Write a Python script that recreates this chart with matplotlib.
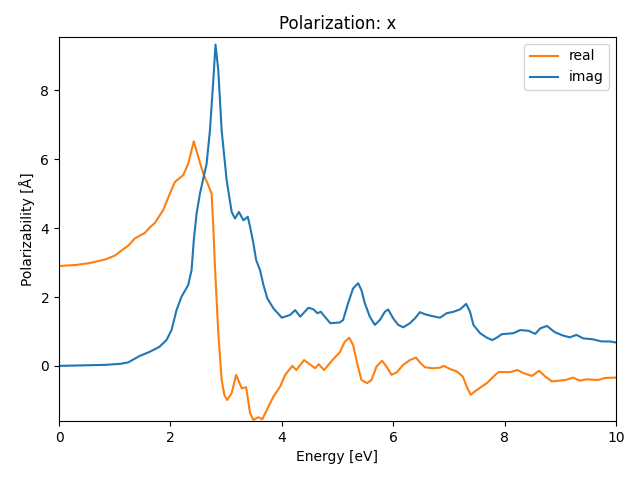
import matplotlib
matplotlib.use("Agg")
import matplotlib.pyplot as plt

real_x = [0.0, 0.30, 0.53, 0.83, 1.00, 1.13, 1.25, 1.36, 1.54, 1.63, 1.72, 1.87, 1.99, 2.08,
          2.23, 2.32, 2.42, 2.50, 2.59, 2.68, 2.74, 2.77, 2.80, 2.86, 2.92, 2.97, 3.02, 3.10,
          3.18, 3.28, 3.36, 3.43, 3.49, 3.58, 3.65, 3.73, 3.85, 3.97, 4.06, 4.19, 4.26, 4.40,
          4.60, 4.66, 4.76, 4.92, 5.04, 5.13, 5.21, 5.28, 5.36, 5.43, 5.53, 5.61, 5.70, 5.80,
          5.88, 5.97, 6.06, 6.18, 6.30, 6.41, 6.48, 6.57, 6.72, 6.84, 6.91, 7.02, 7.14, 7.25,
          7.32, 7.39, 7.50, 7.68, 7.80, 7.89, 8.10, 8.23, 8.34, 8.49, 8.62, 8.73, 8.85, 9.09,
          9.23, 9.35, 9.47, 9.68, 9.80, 10.0]
real_y = [2.90, 2.93, 2.98, 3.09, 3.20, 3.36, 3.50, 3.70, 3.86, 4.02, 4.15, 4.52, 5.00, 5.34,
          5.54, 5.87, 6.52, 6.07, 5.58, 5.25, 5.00, 4.04, 2.88, 0.95, -0.41, -0.85, -0.99, -0.79,
          -0.26, -0.65, -0.62, -1.37, -1.57, -1.49, -1.55, -1.28, -0.89, -0.60, -0.26, 0.0, -0.12, 0.17,
          -0.07, 0.05, -0.12, 0.19, 0.39, 0.70, 0.82, 0.61, 0.03, -0.41, -0.50, -0.41, -0.02, 0.15,
          -0.02, -0.26, -0.19, 0.03, 0.17, 0.24, 0.10, -0.04, -0.07, -0.05, 0.0, -0.09, -0.16, -0.31,
          -0.60, -0.84, -0.70, -0.50, -0.31, -0.18, -0.18, -0.12, -0.21, -0.29, -0.14, -0.31, -0.45, -0.41,
          -0.34, -0.43, -0.39, -0.41, -0.35, -0.34]

imag_x = [0.0, 0.83, 1.10, 1.24, 1.35, 1.45, 1.63, 1.80, 1.93, 2.02, 2.11, 2.20, 2.32, 2.38,
          2.42, 2.47, 2.53, 2.65, 2.71, 2.77, 2.81, 2.86, 2.92, 3.01, 3.10, 3.16, 3.23, 3.31,
          3.39, 3.43, 3.49, 3.54, 3.61, 3.67, 3.74, 3.85, 4.00, 4.15, 4.24, 4.33, 4.48, 4.57,
          4.64, 4.70, 4.87, 5.04, 5.10, 5.19, 5.28, 5.37, 5.43, 5.49, 5.58, 5.67, 5.76, 5.85,
          5.91, 6.00, 6.09, 6.18, 6.30, 6.39, 6.48, 6.57, 6.69, 6.84, 6.96, 7.08, 7.20, 7.31,
          7.38, 7.44, 7.56, 7.68, 7.78, 7.86, 7.95, 8.16, 8.28, 8.43, 8.55, 8.64, 8.76, 8.90,
          9.05, 9.17, 9.29, 9.41, 9.59, 9.74, 9.89, 10.0]
imag_y = [0.0, 0.03, 0.06, 0.10, 0.20, 0.29, 0.41, 0.55, 0.75, 1.04, 1.62, 2.01, 2.35, 2.78,
          3.65, 4.42, 5.00, 5.87, 6.84, 8.29, 9.33, 8.58, 6.84, 5.39, 4.47, 4.28, 4.47, 4.23,
          4.33, 4.04, 3.56, 3.07, 2.78, 2.35, 1.96, 1.67, 1.40, 1.48, 1.62, 1.43, 1.69, 1.64,
          1.53, 1.57, 1.24, 1.26, 1.33, 1.82, 2.25, 2.40, 2.20, 1.82, 1.43, 1.19, 1.33, 1.57,
          1.64, 1.38, 1.19, 1.12, 1.24, 1.38, 1.56, 1.50, 1.45, 1.40, 1.53, 1.57, 1.64, 1.80,
          1.57, 1.19, 0.95, 0.82, 0.75, 0.82, 0.92, 0.95, 1.04, 1.02, 0.93, 1.09, 1.16, 0.98,
          0.88, 0.83, 0.90, 0.80, 0.77, 0.71, 0.71, 0.68]

fig, ax = plt.subplots(figsize=(6.4, 4.8), dpi=100)
ax.plot(real_x, real_y, color="#ff7f0e", label="real")
ax.plot(imag_x, imag_y, color="#1f77b4", label="imag")
ax.set_xlim(0, 10)
ax.set_ylim(-1.6, 9.55)
ax.set_title("Polarization: x")
ax.set_xlabel("Energy [eV]")
ax.set_ylabel("Polarizability [Å]")
ax.legend(loc="upper right")
fig.subplots_adjust(left=59/640, right=616/640, top=1-37/480, bottom=1-421/480)
fig.savefig("out.png")
